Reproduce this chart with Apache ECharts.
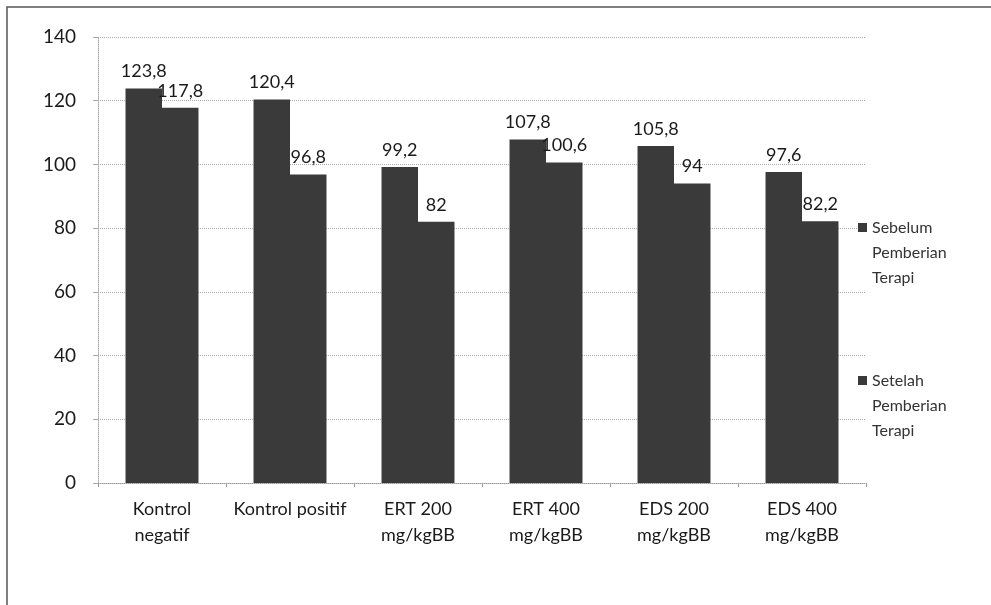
<!DOCTYPE html>
<html>
<head>
<meta charset="utf-8">
<script src="https://cdn.jsdelivr.net/npm/echarts@6/dist/echarts.min.js"></script>
<style>html,body{margin:0;padding:0;background:#fff}#c{width:991px;height:605px}</style>
</head>
<body>
<div id="c"></div>
<script>
const categories = ['Kontrol\nnegatif', 'Kontrol positif', 'ERT 200\nmg/kgBB', 'ERT 400\nmg/kgBB', 'EDS 200\nmg/kgBB', 'EDS 400\nmg/kgBB'];
const seriesNames = ['Sebelum Pemberian Terapi', 'Setelah Pemberian Terapi'];
const sebelum = [123.8, 120.4, 99.2, 107.8, 105.8, 97.6];
const setelah = [117.8, 96.8, 82, 100.6, 94, 82.2];
const yTicks = { min: 0, max: 140, interval: 20 };

const FONT = 'Lato, "Open Sans", sans-serif';
const BAR = '#3a3a3a';
const chart = echarts.init(document.getElementById('c'));
const fmt = p => String(p.value).replace('.', ',');
const labelCfg = { show: true, position: 'top', distance: 8, formatter: fmt, color: '#1a1a1a', fontSize: 18, fontFamily: FONT };

chart.setOption({
  backgroundColor: '#fff',
  animation: false,
  graphic: [{
    type: 'rect', shape: { x: 7, y: 7, width: 1000, height: 620 },
    style: { fill: 'none', stroke: '#555', lineWidth: 1.5 }, silent: true, z: -1
  }],
  grid: { left: 98, right: 125, top: 37, bottom: 122 },
  legend: {
    orient: 'vertical', left: 853, top: 160,
    itemWidth: 9, itemHeight: 9, itemGap: 28,
    icon: 'rect',
    data: seriesNames,
    formatter: n => '\n\n' + n.replace(/ /g, '\n'),
    textStyle: { color: '#333', fontSize: 16, fontFamily: FONT, lineHeight: 25 }
  },
  xAxis: {
    type: 'category', data: categories,
    axisLine: { show: true, lineStyle: { color: '#999', width: 1, type: 'dotted' } },
    axisTick: { show: true, length: 4, lineStyle: { color: '#999' } },
    axisLabel: { interval: 0, color: '#1a1a1a', fontSize: 18, fontFamily: FONT, lineHeight: 26, margin: 13 }
  },
  yAxis: {
    type: 'value', min: yTicks.min, max: yTicks.max, interval: yTicks.interval,
    axisLine: { show: true, lineStyle: { color: '#aaa', width: 1, type: 'dotted' } },
    axisTick: { show: true, length: 5, lineStyle: { color: '#aaa' } },
    splitLine: { show: true, lineStyle: { color: '#aaa', type: 'dotted', width: 1 } },
    axisLabel: { color: '#1a1a1a', fontSize: 19, fontFamily: FONT, margin: 22 }
  },
  series: [
    { name: seriesNames[0], type: 'bar', data: sebelum, barCategoryGap: '43%', barGap: '0%',
      itemStyle: { color: BAR }, label: labelCfg },
    { name: seriesNames[1], type: 'bar', data: setelah, barCategoryGap: '43%', barGap: '0%',
      itemStyle: { color: BAR }, label: labelCfg }
  ]
});
</script>
</body>
</html>
